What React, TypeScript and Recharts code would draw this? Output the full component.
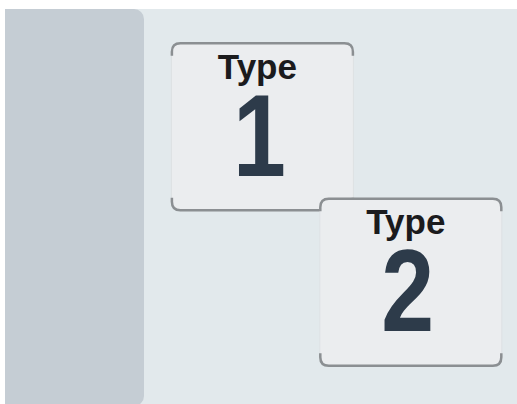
import React from 'react';
import { ScatterChart, Scatter, XAxis, YAxis } from 'recharts';

const heading = 'Type';
const types = ['1', '2'];
const columns = [1, 2];
const rows = [2, 1];

const data = types.map((t, i) => ({ col: columns[i], row: rows[i], type: t }));

const W = 182;
const H = 168;

function card(props: any) {
  const { cx, cy, payload } = props;
  const x = cx - W / 2;
  const y = cy - H / 2;
  const r = 9;
  return (
    <g>
      <rect x={x} y={y} width={W} height={H} rx={r} fill='#ebedef' stroke='#dde1e4' strokeWidth={1} />
      <path
        d={`M${x + 0.5},${y + r + 4} L${x + 0.5},${y + r} Q${x + 0.5},${y + 0.5} ${x + r},${y + 0.5} L${x + W - r},${y + 0.5} Q${x + W - 0.5},${y + 0.5} ${x + W - 0.5},${y + r} L${x + W - 0.5},${y + r + 4}`}
        fill='none'
        stroke='#8b8f92'
        strokeWidth={2.5}
      />
      <path
        d={`M${x + 0.5},${y + H - r - 4} L${x + 0.5},${y + H - r} Q${x + 0.5},${y + H - 0.5} ${x + r},${y + H - 0.5} L${x + W - r},${y + H - 0.5} Q${x + W - 0.5},${y + H - 0.5} ${x + W - 0.5},${y + H - r} L${x + W - 0.5},${y + H - r - 4}`}
        fill='none'
        stroke='#8b8f92'
        strokeWidth={2.5}
      />
      <text
        x={cx - 5}
        y={cy - 48}
        textAnchor='middle'
        fill='#1b1b1d'
        style={{ font: 'bold 35px "Liberation Sans", Arial, sans-serif' }}>
        {heading}
      </text>
      <text
        x={0}
        y={0}
        textAnchor='middle'
        fill='#2d3b4a'
        transform={`translate(${cx - 3},${cy + 49}) scale(0.82,1)`}
        style={{ font: 'bold 116px "Liberation Sans", Arial, sans-serif' }}>
        {payload.type}
      </text>
    </g>
  );
}

export default function App() {
  return (
    <div style={{ position: 'absolute', left: 0, top: 0, width: 517, height: 404, background: '#ffffff', overflow: 'hidden' }}>
      <div style={{ position: 'absolute', left: 5, top: 9, width: 512, height: 395, background: '#e2e9ec' }} />
      <div
        style={{
          position: 'absolute',
          left: 5,
          top: 9,
          width: 139,
          height: 397,
          background: '#c5cdd4',
          borderRadius: '0 10px 10px 0',
        }}
      />
      <div style={{ position: 'absolute', left: 0, top: 0 }}>
        <ScatterChart width={517} height={404} margin={{ top: 49, right: 32, bottom: 44, left: 114 }}>
          <XAxis type='number' dataKey='col' domain={[0, 2.5]} hide />
          <YAxis type='number' dataKey='row' domain={[0.5, 2.5]} hide />
          <Scatter data={data} shape={card} isAnimationActive={false} />
        </ScatterChart>
      </div>
    </div>
  );
}
